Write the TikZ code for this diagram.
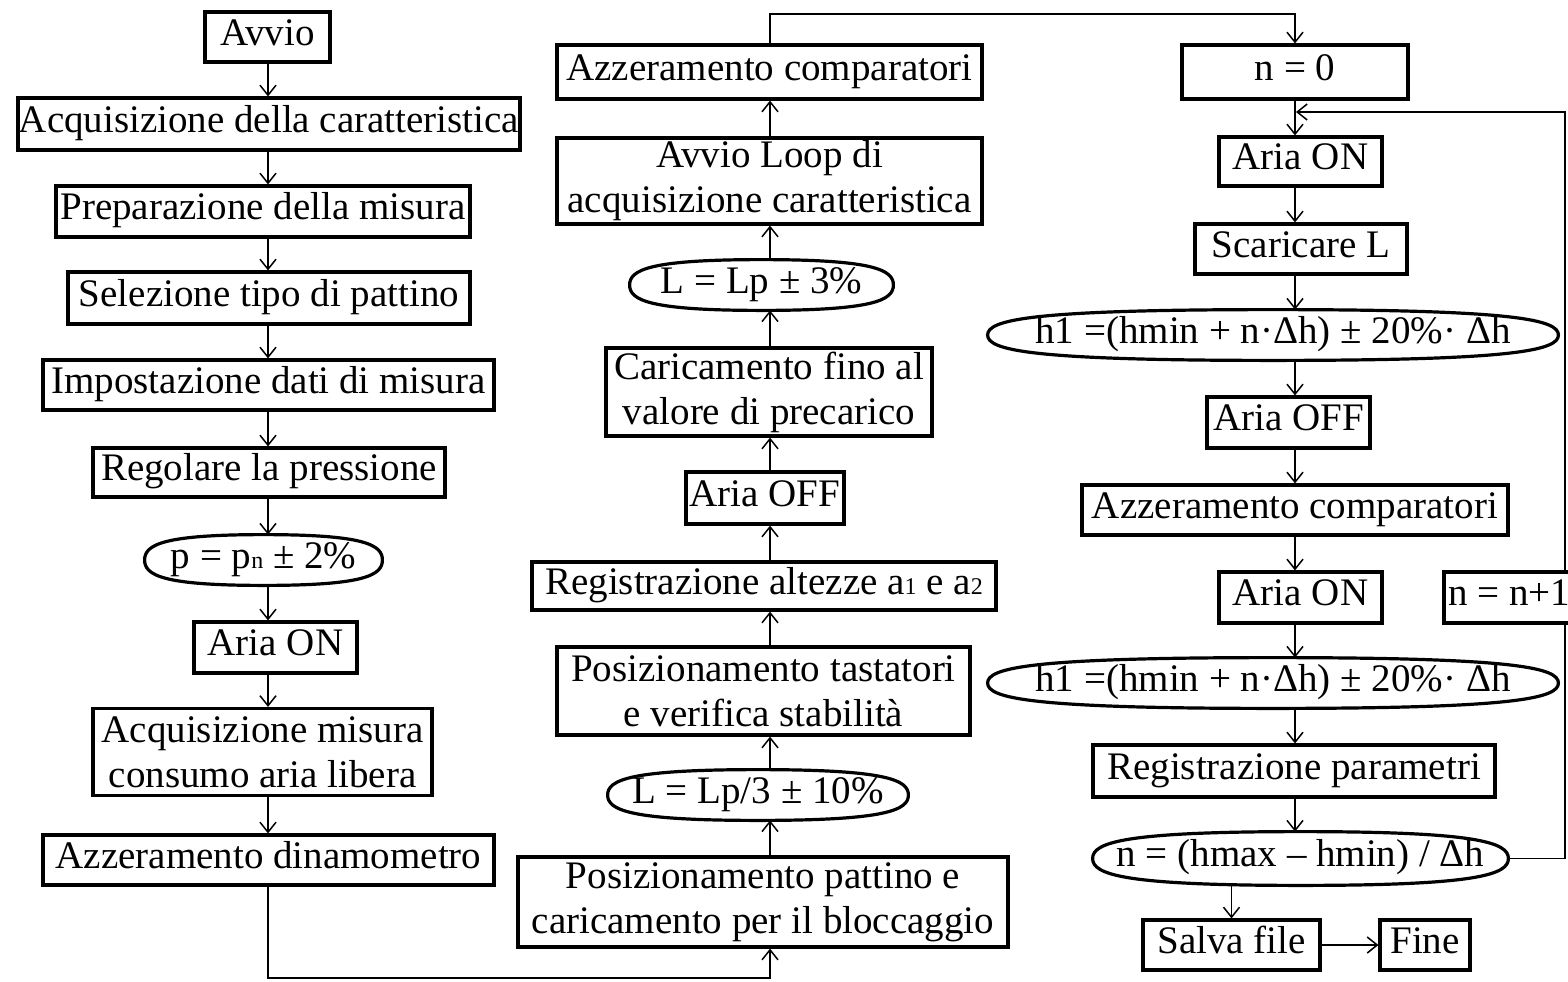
\documentclass[tikz,border=0pt]{standalone}
\usepackage{fontspec}
\setmainfont{Liberation Serif}
\usetikzlibrary{arrows.meta,calc}
\newcommand\smallsub[1]{{\fontsize{12}{12}\selectfont #1}}
\newcommand\kv{0.6}
\newcommand\kh{0.85}
\newcommand\flatell[1]{%
  \draw[line width=1.6pt]
    (#1.west) .. controls ($(#1.west)!\kv!(#1.north west)$) and ($(#1.north)!\kh!(#1.north west)$) .. (#1.north)
    .. controls ($(#1.north)!\kh!(#1.north east)$) and ($(#1.east)!\kv!(#1.north east)$) .. (#1.east)
    .. controls ($(#1.east)!\kv!(#1.south east)$) and ($(#1.south)!\kh!(#1.south east)$) .. (#1.south)
    .. controls ($(#1.south)!\kh!(#1.south west)$) and ($(#1.west)!\kv!(#1.south west)$) .. (#1.west) -- cycle;}
\tikzset{
  base/.style={inner sep=0pt, align=center, font=\fontsize{19.5}{22.5}\selectfont},
  txt/.style={base, text height=14pt, text depth=5.8pt},
  box/.style={txt, draw, line width=1.6pt, fill=white},
  box2/.style={base, draw, line width=1.6pt, fill=white},
  ell/.style={txt},
  sz/.style 2 args={minimum width=#1*0.5pt, minimum height=#2*0.5pt},
  arr/.style={draw, line width=0.75pt, -{Straight Barb[length=5pt,width=8pt]}}
}
\begin{document}
\begin{tikzpicture}[x=0.5pt,y=-0.5pt]
\useasboundingbox (0,0) rectangle (1568,981);
\coordinate (c1) at (268,0);
\coordinate (c2) at (770,0);
\coordinate (c3) at (1295,0);
% column 1
\node[box, sz={125}{50}] (avvio) at (267.5,37) {Avvio};
\node[box, sz={502}{52}] (acq) at (269,124) {Acquisizione della caratteristica};
\node[box, sz={414}{51}] (prep) at (263,211.5) {Preparazione della misura};
\node[box, sz={402}{52}] (sel) at (269,298) {Selezione tipo di pattino};
\node[box, sz={451}{50}] (imp) at (268.5,385) {Impostazione dati di misura};
\node[box, sz={352}{49}] (reg) at (269,472.5) {Regolare la pressione};
\node[ell, sz={237}{50}] (pell) at (263.5,560) {p = p\smallsub{n} ± 2\%};
\flatell{pell}
\node[box, sz={163}{51}] (ariaon1) at (275.5,647.5) {Aria ON};
\node[box2, sz={339}{87}] (acqmis) at (262.5,752) {Acquisizione misura\\consumo aria libera};
\node[box, sz={451}{50}] (azdin) at (268.5,860) {Azzeramento dinamometro};
% column 2
\node[box, sz={425}{54}] (azcomp1) at (769.5,72) {Azzeramento comparatori};
\node[box2, sz={425}{86}] (loop) at (769.5,181) {Avvio Loop di\\acquisizione caratteristica};
\node[ell, sz={263}{50}] (lp3) at (761.5,285) {L = Lp ± 3\%};
\flatell{lp3}
\node[box2, sz={326}{88}] (car) at (769,392) {Caricamento fino al\\valore di precarico};
\node[box, sz={158}{52}] (ariaoff1) at (765,498) {Aria OFF};
\node[box, sz={464}{48}] (regalt) at (764,586) {Registrazione altezze a\smallsub{1} e a\smallsub{2}};
\node[box2, sz={413}{88}] (postast) at (763.5,691) {Posizionamento tastatori\\e verifica stabilità};
\node[ell, sz={300}{50}] (lp10) at (758,795) {L = Lp/3 ± 10\%};
\flatell{lp10}
\node[box2, sz={490}{90}] (pospat) at (763,902) {Posizionamento pattino e\\caricamento per il bloccaggio};
% column 3
\node[box, sz={226}{54}] (n0) at (1295,72) {n = 0};
\node[box, sz={163}{49}] (ariaon2) at (1300.5,161.5) {Aria ON};
\node[box, sz={212}{50}] (scar) at (1301,249) {Scaricare L};
\node[ell, sz={570}{50}] (h1a) at (1273,335) {h1 =(hmin + n·Δh) ± 20\%· Δh};
\flatell{h1a}
\node[box, sz={163}{51}] (ariaoff2) at (1288.5,422.5) {Aria OFF};
\node[box, sz={426}{50}] (azcomp2) at (1295,510) {Azzeramento comparatori};
\node[box, sz={163}{51}] (ariaon3) at (1300.5,597.5) {Aria ON};
\node[ell, sz={570}{50}] (h1b) at (1273,683) {h1 =(hmin + n·Δh) ± 20\%· Δh};
\flatell{h1b}
\node[box, sz={402}{52}] (regpar) at (1294,771) {Registrazione parametri};
\node[ell, sz={415}{53}] (nell) at (1300.5,858.5) {n = (hmax – hmin) / Δh};
\flatell{nell}
\node[box, sz={177}{50}] (salva) at (1231.5,945) {Salva file};
\node[box, sz={90}{50}] (fine) at (1425,945) {Fine};
% connectors column 1
\draw[arr] (avvio.south -| c1) -- (acq.north -| c1);
\draw[arr] (acq.south -| c1) -- (prep.north -| c1);
\draw[arr] (prep.south -| c1) -- (sel.north -| c1);
\draw[arr] (sel.south -| c1) -- (imp.north -| c1);
\draw[arr] (imp.south -| c1) -- (reg.north -| c1);
\draw[arr] (reg.south -| c1) -- (pell.north -| c1);
\draw[arr] (pell.south -| c1) -- (ariaon1.north -| c1);
\draw[arr] (ariaon1.south -| c1) -- (acqmis.north -| c1);
\draw[arr] (acqmis.south -| c1) -- (azdin.north -| c1);
\coordinate (bot) at (770,978);
\draw[arr] (azdin.south -| c1) |- (bot) -- (pospat.south -| c2);
% connectors column 2 (upward)
\draw[arr] (pospat.north -| c2) -- (lp10.south -| c2);
\draw[arr] (lp10.north -| c2) -- (postast.south -| c2);
\draw[arr] (postast.north -| c2) -- (regalt.south -| c2);
\draw[arr] (regalt.north -| c2) -- (ariaoff1.south -| c2);
\draw[arr] (ariaoff1.north -| c2) -- (car.south -| c2);
\draw[arr] (car.north -| c2) -- (lp3.south -| c2);
\draw[arr] (lp3.north -| c2) -- (loop.south -| c2);
\draw[arr] (loop.north -| c2) -- (azcomp1.south -| c2);
\coordinate (top) at (770,14);
\draw[arr] (azcomp1.north -| c2) -- (top) -| (n0.north -| c3);
% connectors column 3
\draw[arr] (n0.south -| c3) -- (ariaon2.north -| c3);
\draw[arr] (ariaon2.south -| c3) -- (scar.north -| c3);
\draw[arr] (scar.south -| c3) -- (h1a.north -| c3);
\draw[arr] (h1a.south -| c3) -- (ariaoff2.north -| c3);
\draw[arr] (ariaoff2.south -| c3) -- (azcomp2.north -| c3);
\draw[arr] (azcomp2.south -| c3) -- (ariaon3.north -| c3);
\draw[arr] (ariaon3.south -| c3) -- (h1b.north -| c3);
\draw[arr] (h1b.south -| c3) -- (regpar.north -| c3);
\draw[arr] (regpar.south -| c3) -- (nell.north -| c3);
\draw[arr] (nell.south -| salva.north) -- (salva.north);
\draw[arr] (salva.east) -- (fine.west);
\coordinate (lr) at (1565,112);
\coordinate (lin) at (1296,112);
\draw[arr] (nell.east) -| (lr) -- (lin);
\node[box, sz={130}{51}] (nn1) at (1509,597.5) {n = n+1};
\end{tikzpicture}
\end{document}
